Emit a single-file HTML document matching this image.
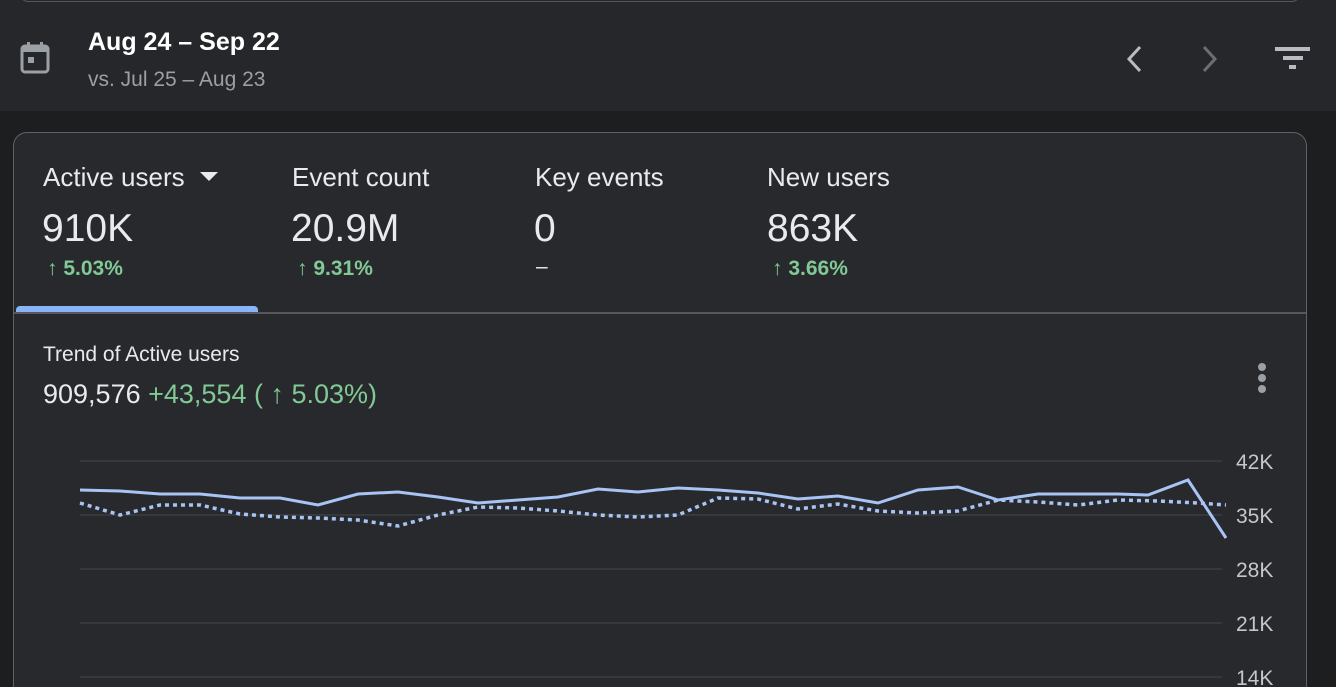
<!DOCTYPE html>
<html style="height:687px;overflow:hidden"><head><meta charset="utf-8"><style>
body{margin:0;width:1336px;height:687px;overflow:hidden;background:#1d1e20;font-family:"Liberation Sans",sans-serif;position:relative;color:#e8eaed}
.top{position:absolute;left:0;top:0;width:1336px;height:111px;background:#26272a}
.topline{position:absolute;left:20px;top:-8px;width:1278px;height:8px;border:1px solid #55575b;border-radius:0 0 8px 8px}
.t{position:absolute;white-space:nowrap}
.card{position:absolute;left:13px;top:132px;width:1292px;height:580px;background:#28292d;border:1px solid #606266;border-radius:14px}
</style></head><body>
<div class="top"><div class="topline"></div></div>
<svg class="t" style="left:20px;top:41px" width="30" height="34" viewBox="0 0 30 34"><rect x="2" y="5" width="26" height="26" rx="3" fill="none" stroke="#9aa0a6" stroke-width="3"/><rect x="2" y="5" width="26" height="6" fill="#9aa0a6"/><rect x="7" y="1" width="3" height="6" fill="#9aa0a6"/><rect x="20" y="1" width="3" height="6" fill="#9aa0a6"/><rect x="8" y="16" width="6" height="6" fill="#9aa0a6"/></svg>
<div class="t" style="left:88px;top:28px;font-size:25px;font-weight:bold;color:#fff">Aug 24 – Sep 22</div>
<div class="t" style="left:88px;top:68px;font-size:21px;color:#9aa0a6">vs. Jul 25 – Aug 23</div>
<svg class="t" style="left:1120px;top:42px" width="200" height="34"><polyline points="20,5 9,17 20,29" fill="none" stroke="#b8bcc2" stroke-width="3"/><polyline points="84,5 95,17 84,29" fill="none" stroke="#6b6e73" stroke-width="3"/><rect x="155" y="5" width="35" height="4" fill="#b8bcc2"/><rect x="163" y="14" width="20" height="4" fill="#b8bcc2"/><rect x="169" y="23" width="7" height="4" fill="#b8bcc2"/></svg>
<div class="card"></div>
<div class="t" style="left:43px;top:162px;font-size:26px">Active users</div>
<svg class="t" style="left:200px;top:172px" width="18" height="10"><polygon points="0,0 18,0 9,9" fill="#e8eaed"/></svg>
<div class="t" style="left:292px;top:162px;font-size:26px">Event count</div>
<div class="t" style="left:535px;top:162px;font-size:26px">Key events</div>
<div class="t" style="left:767px;top:162px;font-size:26px">New users</div>
<div class="t" style="left:42px;top:207px;font-size:39px">910K</div>
<div class="t" style="left:291px;top:207px;font-size:39px">20.9M</div>
<div class="t" style="left:534px;top:207px;font-size:39px">0</div>
<div class="t" style="left:767px;top:207px;font-size:39px">863K</div>
<div class="t" style="left:47px;top:257px;font-size:21px;font-weight:bold;color:#81c995">↑ 5.03%</div>
<div class="t" style="left:297px;top:257px;font-size:21px;font-weight:bold;color:#81c995">↑ 9.31%</div>
<div class="t" style="left:536px;top:255px;font-size:21px;color:#e8eaed">–</div>
<div class="t" style="left:772px;top:257px;font-size:21px;font-weight:bold;color:#81c995">↑ 3.66%</div>
<div class="t" style="left:16px;top:306px;width:242px;height:6px;background:#8ab4f8;border-radius:4px 4px 0 0"></div>
<div class="t" style="left:14px;top:312px;width:1292px;height:2px;background:#55575b"></div>
<div class="t" style="left:43px;top:343px;font-size:21px">Trend of Active users</div>
<div class="t" style="left:43px;top:379px;font-size:27px">909,576 <span style="color:#81c995">+43,554 ( ↑ 5.03%)</span></div>
<svg class="t" style="left:1254px;top:362px" width="16" height="34"><circle cx="8" cy="5" r="4" fill="#9aa0a6"/><circle cx="8" cy="16" r="4" fill="#9aa0a6"/><circle cx="8" cy="27" r="4" fill="#9aa0a6"/></svg>
<svg class="t" style="left:0;top:0" width="1336" height="687">
<g stroke="#3c3e42" stroke-width="1.5"><line x1="80" y1="461" x2="1222" y2="461"/><line x1="80" y1="515" x2="1222" y2="515"/><line x1="80" y1="569" x2="1222" y2="569"/><line x1="80" y1="623" x2="1222" y2="623"/><line x1="80" y1="677" x2="1222" y2="677"/></g>
<g font-family="Liberation Sans" font-size="21" fill="#c4c7ca"><text x="1236" y="469">42K</text><text x="1236" y="523">35K</text><text x="1236" y="577">28K</text><text x="1236" y="631">21K</text><text x="1236" y="685">14K</text></g>
<polyline fill="none" stroke="#a8c4f4" stroke-width="3.5" stroke-dasharray="4 4" points="80,503 120,515 160,505 200,505 240,514 280,517 318,518 358,520 398,526 438,515 478,507 518,508 558,511 598,515 638,517 678,515 718,498 758,499 798,509 838,504 878,511 918,513 958,511 998,500 1038,502 1078,505 1118,500 1158,501 1198,503 1226,505"/>
<polyline fill="none" stroke="#a8c4f4" stroke-width="3" points="80,490 120,491 160,494 200,494 240,498 280,498 318,505 358,494 398,492 438,497 478,503 518,500 558,497 598,489 638,492 678,488 718,490 758,493 798,499 838,496 878,503 918,490 958,487 998,500 1038,494 1078,494 1118,494 1148,495 1188,480 1226,538"/>
</svg>
</body></html>
